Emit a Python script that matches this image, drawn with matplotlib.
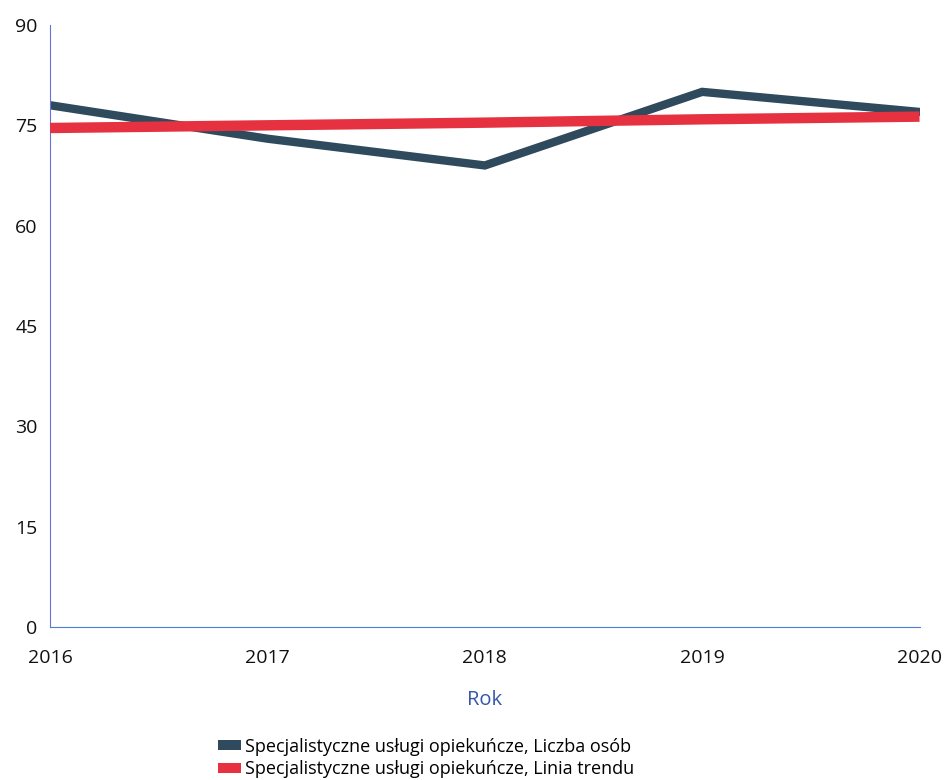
import matplotlib
matplotlib.use('Agg')
import matplotlib.pyplot as plt
from matplotlib.patches import Patch

plt.rcParams['font.family'] = ['Open Sans', 'DejaVu Sans']
plt.rcParams.update({'font.size': 14})

# values
years = [2016, 2017, 2018, 2019, 2020]
liczba_osob = [78, 73, 69, 80, 77]
linia_trendu = [74.6, 75.0, 75.4, 75.9, 76.3]
yticks = [0, 15, 30, 45, 60, 75, 90]
labels = ['Specjalistyczne usługi opiekuńcze, Liczba osób',
          'Specjalistyczne usługi opiekuńcze, Linia trendu']
colors = ['#2e4a5c', '#e63240']

fig = plt.figure(figsize=(9.46, 7.8), dpi=100)
ax = fig.add_axes([0.053, 0.196, 0.919, 0.772])

ax.plot(years, liczba_osob, color=colors[0], linewidth=6, solid_joinstyle='miter', zorder=2)
ax.plot(years, linia_trendu, color=colors[1], linewidth=7.5, solid_capstyle='butt', zorder=3)

ax.set_xlim(years[0], years[-1])
ax.set_ylim(0, 90)
ax.set_yticks(yticks)
ax.set_xticks(years)
ax.tick_params(length=0, labelsize=14, colors='#111111')
ax.tick_params(axis='y', pad=9)
ax.tick_params(axis='x', pad=16)
for s in ['top', 'right']:
    ax.spines[s].set_visible(False)
ax.spines['left'].set_color('#6a72d8')
ax.spines['left'].set_linewidth(0.8)
ax.spines['bottom'].set_color('#4a7fd6')
ax.spines['bottom'].set_linewidth(0.8)

ax.set_xlabel('Rok', color='#3557a8', fontsize=14.5, labelpad=16)

handles = [Patch(facecolor=c, edgecolor='none') for c in colors]
fig.legend(handles, labels, loc='upper center', bbox_to_anchor=(0.45, 0.066),
           frameon=False, fontsize=13, handlelength=1.3, handleheight=0.5,
           handletextpad=0.2, labelspacing=0.25, borderpad=0)

fig.savefig('out.png', dpi=100)
